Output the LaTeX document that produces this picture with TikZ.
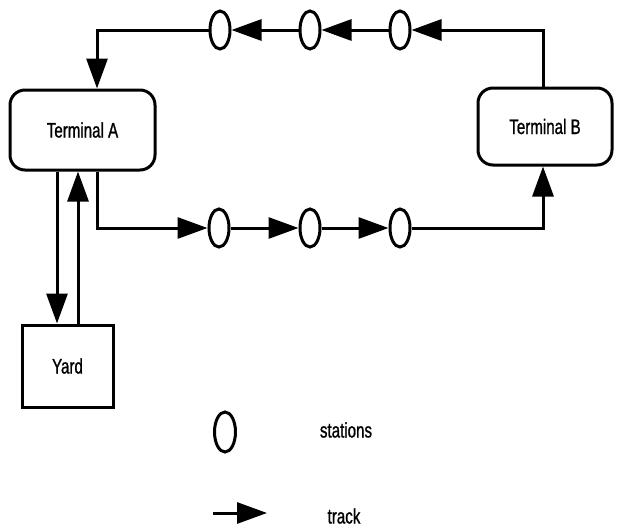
\documentclass[tikz,border=0pt]{standalone}
\usepackage{fontspec}
\setmainfont[FakeStretch=0.72,FakeBold=1]{Liberation Sans}
\usetikzlibrary{arrows.meta,shapes.geometric,calc}
\begin{document}
\begin{tikzpicture}[x=1pt,y=-1pt,
  line width=3pt,
  every node/.style={font=\fontsize{21}{24}\selectfont},
  term/.style={draw,rounded corners=15pt,inner sep=0},
  yardbox/.style={draw,inner sep=0,minimum width=91pt,minimum height=82pt},
  stn/.style={draw,ellipse,inner sep=0,minimum width=20pt,minimum height=38pt},
  lbl/.style={draw=none,inner sep=0},
  trk/.style={-{Triangle[length=30pt,width=21pt]}},
]
\useasboundingbox (0,0) rectangle (619,530);
% terminals and yard
\node[term,minimum width=145pt,minimum height=80pt] (A) at (82.5,130) {Terminal A};
\node[term,minimum width=134pt,minimum height=77pt] (B) at (545,126.5) {Terminal B};
\node[yardbox] (Y) at (67.5,366) {Yard};
% stations
\node[stn] (t1) at (220,30) {};
\node[stn] (t2) at (310,30) {};
\node[stn] (t3) at (400,30) {};
\node[stn] (b1) at (219,228) {};
\node[stn] (b2) at (310,228) {};
\node[stn] (b3) at (400,228) {};
\coordinate (ctop) at (543,30);
\coordinate (ctl) at (97,30);
\coordinate (cbl) at (97,228);
\coordinate (cbr) at (543,228);
% top track (B -> A)
\draw[trk] (B.north -| ctop) -- (ctop) -- (t3.east);
\draw[trk] (t3.west) -- (t2.east);
\draw[trk] (t2.west) -- (t1.east);
\draw[trk] (t1.west) -- (ctl) -- (A.north -| ctl);
% bottom track (A -> B)
\draw[trk] (A.south -| cbl) -- (cbl) -- (b1.west);
\draw[trk] (b1.east) -- (b2.west);
\draw[trk] (b2.east) -- (b3.west);
\draw[trk] (b3.east) -- (cbr) -- (B.south -| cbr);
% yard tracks
\coordinate (yd) at (57,0);
\coordinate (yu) at (78,0);
\draw[trk] (A.south -| yd) -- (Y.north -| yd);
\draw[trk] (Y.north -| yu) -- (A.south -| yu);
% legend
\node[stn,minimum width=21pt,minimum height=40pt] (ls) at (225,432) {};
\node[lbl] (lst) at (346,430) {stations};
\coordinate (la1) at (213,513);
\coordinate (la2) at (267,513);
\draw[trk] (la1) -- (la2);
\node[lbl] (ltr) at (344,516) {track};
\end{tikzpicture}
\end{document}
